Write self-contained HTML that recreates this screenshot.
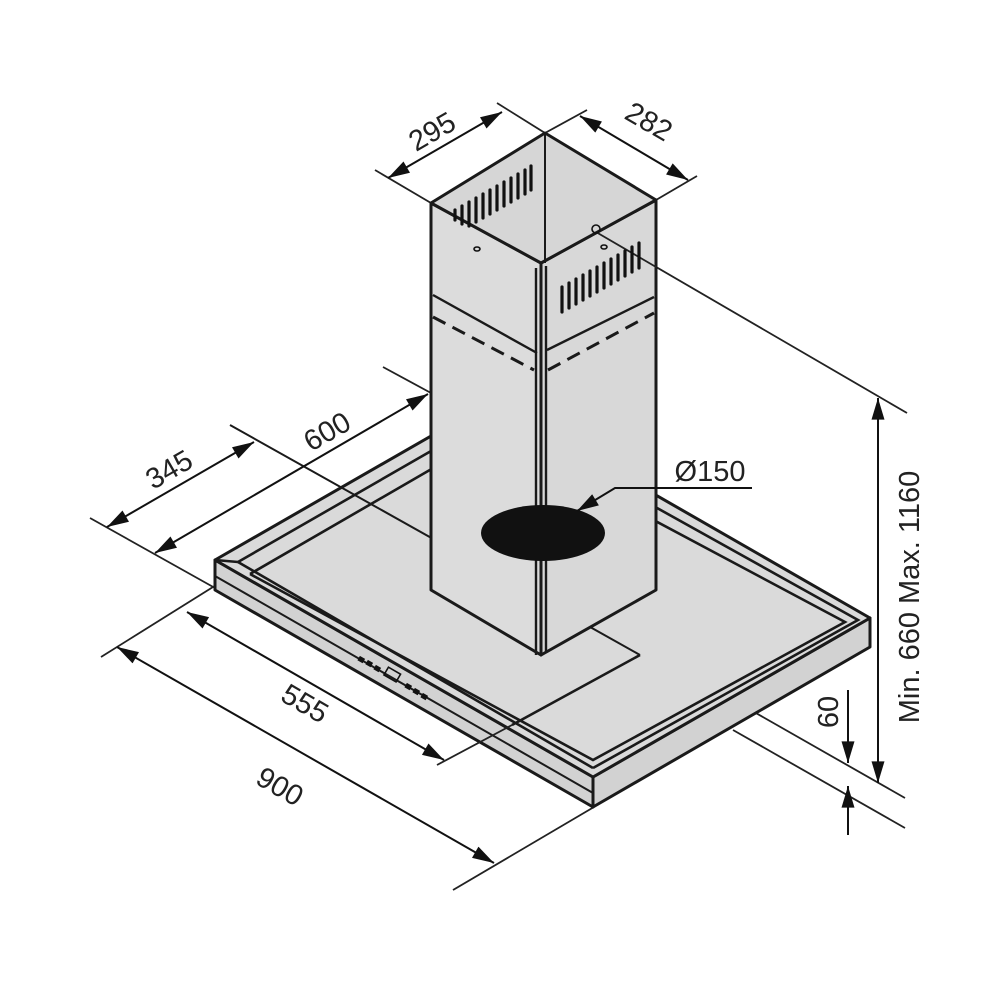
<!DOCTYPE html>
<html><head><meta charset="utf-8"><style>
html,body{margin:0;padding:0;background:#fff;}
svg{display:block;}
text{font-family:"Liberation Sans",Arial,sans-serif;fill:#222;}
</style></head><body>
<svg width="1000" height="1000" viewBox="0 0 1000 1000" xmlns="http://www.w3.org/2000/svg">
<defs>
<marker id="A" viewBox="0 0 20 12" refX="20" refY="6" markerWidth="22" markerHeight="13" markerUnits="userSpaceOnUse" orient="auto-start-reverse"><path d="M0,0 L20,6 L0,12 z" fill="#111"/></marker>
</defs>
<g stroke="#222" stroke-width="1.8" fill="none">
<line x1="90" y1="518" x2="215" y2="588"/>
<line x1="383" y1="367" x2="431" y2="393"/>
<line x1="101" y1="657" x2="237" y2="572"/>
<line x1="453" y1="890" x2="594" y2="807"/>
<line x1="733" y1="700" x2="905" y2="798"/>
<line x1="733" y1="730" x2="905" y2="828"/>
<line x1="596" y1="232" x2="907" y2="413"/>
<line x1="375" y1="170" x2="431" y2="203"/>
<line x1="497" y1="103" x2="545" y2="133"/>
<line x1="545" y1="133" x2="587" y2="110"/>
<line x1="656" y1="200" x2="697" y2="176"/>
</g>
<g stroke="#1a1a1a" stroke-width="3" stroke-linejoin="round">
<polygon points="215,560 593,777 593,807 215,590" fill="#d2d2d2"/>
<polygon points="593,777 870,618 870,647 593,807" fill="#d2d2d2"/>
<polygon points="215,560 492,401 870,618 593,777" fill="#dadada"/>
</g>
<g stroke="#1a1a1a" stroke-width="2.6" fill="none">
<polyline points="238,562 492,416 858,620 593,768"/>
<polyline points="238,562 593,768"/>
<polyline points="250,574 492,434 845,622 593,760 250,574"/>
<line x1="215" y1="560" x2="238" y2="562"/>
<line x1="593" y1="777" x2="593" y2="807"/>
<line x1="215" y1="576" x2="593" y2="793" stroke-width="2"/>
<polyline points="640,655 512,725"/>
</g>
<line x1="230" y1="425" x2="640" y2="655" stroke="#1a1a1a" stroke-width="2"/>
<line x1="437" y1="765" x2="512" y2="725" stroke="#222" stroke-width="1.8"/>
<g fill="#111">
<rect x="358" y="657" width="6" height="5" transform="rotate(30 361 660)"/>
<rect x="366" y="661" width="6" height="5" transform="rotate(30 369 664)"/>
<rect x="374" y="666" width="6" height="5" transform="rotate(30 377 669)"/>
<rect x="405" y="684" width="6" height="5" transform="rotate(30 408 687)"/>
<rect x="413" y="689" width="6" height="5" transform="rotate(30 416 692)"/>
<rect x="421" y="694" width="6" height="5" transform="rotate(30 424 697)"/>
</g>
<rect x="385" y="670" width="14" height="9" fill="none" stroke="#111" stroke-width="1.6" transform="rotate(30 392 675)"/>
<g stroke="#1a1a1a" stroke-width="3" stroke-linejoin="round">
<polygon points="431,203 541,263 541,655 431,590" fill="#dcdcdc"/>
<polygon points="541,263 656,200 656,590 541,655" fill="#d8d8d8"/>
<polygon points="431,203 545,133 656,200 541,263" fill="#d6d6d6"/>
<polyline points="545,133 545,263" fill="none" stroke-width="2"/>
</g>
<g stroke="#1a1a1a" stroke-width="2.4" fill="none">
<line x1="536" y1="268" x2="536" y2="655"/>
<line x1="546" y1="266" x2="546" y2="652"/>
<line x1="433" y1="295" x2="537" y2="353"/>
<line x1="547" y1="350" x2="654" y2="297"/>
<line x1="433" y1="317" x2="534" y2="370" stroke-dasharray="14,8" stroke-width="3"/>
<line x1="548" y1="370" x2="654" y2="313" stroke-dasharray="14,8" stroke-width="3"/>
</g>
<line x1="596" y1="232" x2="656" y2="267" stroke="#222" stroke-width="1.8"/>
<g stroke="#111" stroke-width="3.2" stroke-linecap="round">
<line x1="455" y1="210" x2="455" y2="220"/><line x1="462" y1="206" x2="462" y2="224"/><line x1="469" y1="202" x2="469" y2="226"/><line x1="476" y1="198" x2="476" y2="222"/><line x1="483" y1="194" x2="483" y2="218"/><line x1="490" y1="190" x2="490" y2="214"/><line x1="497" y1="186" x2="497" y2="210"/><line x1="504" y1="182" x2="504" y2="206"/><line x1="511" y1="178" x2="511" y2="202"/><line x1="518" y1="174" x2="518" y2="198"/><line x1="525" y1="170" x2="525" y2="194"/><line x1="531" y1="166" x2="531" y2="190"/>
<line x1="562" y1="287" x2="562" y2="312"/><line x1="569" y1="283" x2="569" y2="308"/><line x1="576" y1="279" x2="576" y2="304"/><line x1="583" y1="275" x2="583" y2="300"/><line x1="590" y1="271" x2="590" y2="296"/><line x1="597" y1="267" x2="597" y2="292"/><line x1="604" y1="263" x2="604" y2="288"/><line x1="611" y1="259" x2="611" y2="284"/><line x1="618" y1="255" x2="618" y2="280"/><line x1="625" y1="251" x2="625" y2="276"/><line x1="632" y1="247" x2="632" y2="272"/><line x1="639" y1="243" x2="639" y2="268"/>
</g>
<ellipse cx="477" cy="249" rx="3" ry="2" fill="none" stroke="#111" stroke-width="1.6"/>
<ellipse cx="604" cy="247" rx="3" ry="2" fill="none" stroke="#111" stroke-width="1.6"/>
<circle cx="596" cy="229" r="4" fill="none" stroke="#111" stroke-width="1.6"/>
<ellipse cx="543" cy="533" rx="62" ry="28" fill="#111"/>
<g stroke="#111" stroke-width="2" fill="none">
<line x1="388" y1="178" x2="502" y2="112" marker-start="url(#A)" marker-end="url(#A)"/>
<line x1="580" y1="116" x2="688" y2="180" marker-start="url(#A)" marker-end="url(#A)"/>
<line x1="107" y1="527" x2="254" y2="442" marker-start="url(#A)" marker-end="url(#A)"/>
<line x1="155" y1="553" x2="428" y2="394" marker-start="url(#A)" marker-end="url(#A)"/>
<line x1="187" y1="612" x2="444" y2="760" marker-start="url(#A)" marker-end="url(#A)"/>
<line x1="117" y1="647" x2="494" y2="863" marker-start="url(#A)" marker-end="url(#A)"/>
<line x1="878" y1="398" x2="878" y2="783" marker-start="url(#A)" marker-end="url(#A)"/>
<line x1="848" y1="690" x2="848" y2="763" marker-end="url(#A)"/>
<line x1="848" y1="835" x2="848" y2="786" marker-end="url(#A)"/>
<polyline points="752,488 615,488 577,511" marker-end="url(#A)"/>
</g>
<g font-size="29">
<text transform="translate(437,140) rotate(-30)" text-anchor="middle">295</text>
<text transform="translate(644,130) rotate(30)" text-anchor="middle">282</text>
<text transform="translate(332,440) rotate(-30)" text-anchor="middle">600</text>
<text transform="translate(174,478) rotate(-30)" text-anchor="middle">345</text>
<text transform="translate(300,712) rotate(30)" text-anchor="middle">555</text>
<text transform="translate(275,795) rotate(30)" text-anchor="middle">900</text>
<text x="710" y="481" text-anchor="middle">Ø150</text>
<text transform="translate(838,712) rotate(-90)" text-anchor="middle">60</text>
<text transform="translate(919,597) rotate(-90)" text-anchor="middle">Min. 660 Max. 1160</text>
</g>
</svg>
</body></html>
